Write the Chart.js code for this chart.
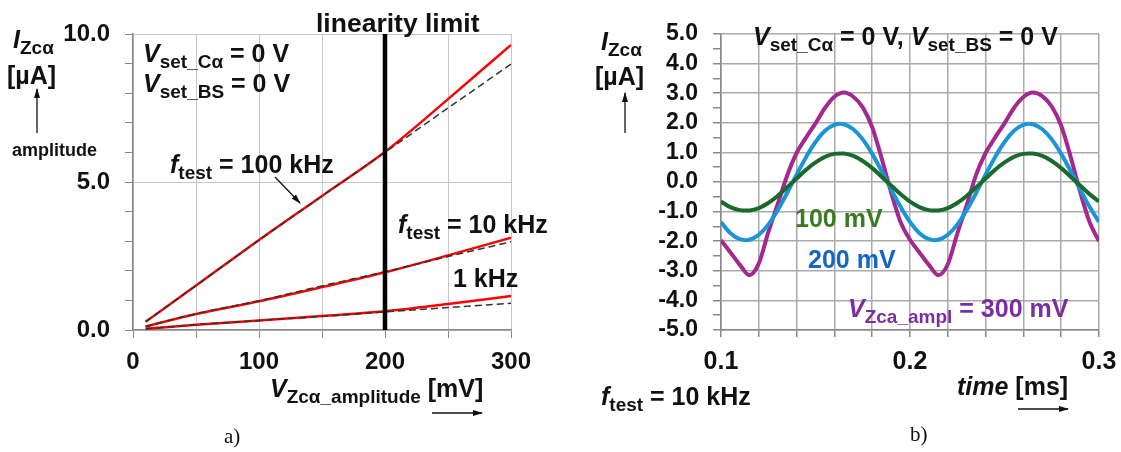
<!DOCTYPE html>
<html>
<head>
<meta charset="utf-8">
<script src="https://cdn.jsdelivr.net/npm/chart.js@4.4.1/dist/chart.umd.min.js"></script>
<style>
  body { margin: 0; background: #fff; }
  #page { position: relative; width: 1121px; height: 452px; overflow: hidden;
          font-family: "Liberation Sans", Arial, sans-serif; font-weight: bold; color: #111; }
  canvas { position: absolute; top: 0; }
  .t { position: absolute; white-space: nowrap; line-height: 1; font-size: 25px; }
  .t i { font-style: italic; }
  .s { font-size: 19px; position: relative; top: 6px; }
  .cap { font-family: "Liberation Serif", "Times New Roman", serif; font-weight: normal; font-size: 21px; }
  svg { position: absolute; left: 0; top: 0; }
</style>
</head>
<body>
<div id="page">
  <canvas id="chartA" width="560" height="452" style="left:0"></canvas>
  <canvas id="chartB" width="600" height="452" style="left:560px"></canvas>

  <svg width="1121" height="452">
    <defs>
      <marker id="ah" markerWidth="10" markerHeight="6" refX="9" refY="3" orient="auto" markerUnits="userSpaceOnUse">
        <path d="M0,0 L10,3 L0,6 z" fill="#111"/>
      </marker>
    </defs>
    <line x1="37" y1="133" x2="37" y2="89" stroke="#111" stroke-width="1.3" marker-end="url(#ah)"/>
    <line x1="275" y1="177" x2="300" y2="203" stroke="#111" stroke-width="1.3" marker-end="url(#ah)"/>
    <line x1="432" y1="413" x2="482" y2="413" stroke="#111" stroke-width="1.3" marker-end="url(#ah)"/>
    <line x1="625" y1="133" x2="625" y2="93" stroke="#111" stroke-width="1.3" marker-end="url(#ah)"/>
    <line x1="1018" y1="409" x2="1068" y2="409" stroke="#111" stroke-width="1.3" marker-end="url(#ah)"/>
  </svg>

  <!-- a) amplitude vs. voltage -->
  <div class="t" style="left:316px;top:10px;font-size:26.5px">linearity limit</div>
  <div class="t" style="left:143px;top:41px"><i>V</i><span class="s">set_Cα</span> = 0 V</div>
  <div class="t" style="left:143px;top:71px"><i>V</i><span class="s">set_BS</span> = 0 V</div>
  <div class="t" style="left:170px;top:152px"><i>f</i><span class="s">test</span> = 100 kHz</div>
  <div class="t" style="left:398px;top:212px"><i>f</i><span class="s">test</span> = 10 kHz</div>
  <div class="t" style="left:453px;top:266px">1 kHz</div>
  <div class="t" style="left:13px;top:27px"><i>I</i><span class="s">Zcα</span></div>
  <div class="t" style="left:7px;top:63px">[µA]</div>
  <div class="t" style="left:12px;top:141px;font-size:18px">amplitude</div>
  <div class="t" style="left:270px;top:376px"><i>V</i><span class="s">Zcα_amplitude</span> [mV]</div>
  <div class="t cap" style="left:224px;top:426px">a)</div>

  <!-- b) current over time -->
  <div class="t" style="left:753px;top:24px"><i>V</i><span class="s">set_Cα</span> = 0 V, <i>V</i><span class="s">set_BS</span> = 0 V</div>
  <div class="t" style="left:795px;top:206px;color:#3a7a22">100 mV</div>
  <div class="t" style="left:808px;top:247px;color:#1565c4">200 mV</div>
  <div class="t" style="left:848px;top:296px;color:#7b2f9e"><i>V</i><span class="s">Zca_ampl</span> = 300 mV</div>
  <div class="t" style="left:601px;top:384px"><i>f</i><span class="s">test</span> = 10 kHz</div>
  <div class="t" style="left:957px;top:374px"><i>time</i> [ms]</div>
  <div class="t" style="left:601px;top:29px"><i>I</i><span class="s">Zcα</span></div>
  <div class="t" style="left:595px;top:64px">[µA]</div>
  <div class="t cap" style="left:910px;top:424px">b)</div>
</div>

<script>
// a) current amplitude [µA] vs. V_Zcα amplitude [mV]
const vAmplitude = [10, 50, 100, 150, 200, 250, 300];
const red100kHz  = [0.28, 1.50, 3.04, 4.53, 6.02, 7.80, 9.63];
const dash100kHz = [0.28, 1.50, 3.03, 4.52, 6.00, 7.50, 8.98];
const red10kHz   = [0.12, 0.54, 0.97, 1.45, 1.95, 2.52, 3.12];
const dash10kHz  = [0.12, 0.55, 0.99, 1.49, 1.97, 2.48, 2.98];
const red1kHz    = [0.04, 0.18, 0.32, 0.47, 0.63, 0.88, 1.15];
const dash1kHz   = [0.04, 0.18, 0.32, 0.46, 0.61, 0.76, 0.90];
const linearityLimit = 200;
const ampRange = [0, 10];

// b) current [µA] over time [ms], f_test = 10 kHz
const timeMs = [0.100, 0.105, 0.110, 0.115, 0.120, 0.125, 0.130, 0.135, 0.140, 0.145,
                0.150, 0.155, 0.160, 0.165, 0.170, 0.175, 0.180, 0.185, 0.190, 0.195,
                0.200, 0.205, 0.210, 0.215, 0.220, 0.225, 0.230, 0.235, 0.240, 0.245,
                0.250, 0.255, 0.260, 0.265, 0.270, 0.275, 0.280, 0.285, 0.290, 0.295, 0.300];
const i100mV = [-0.66, -0.85, -0.95, -0.96, -0.88, -0.71, -0.47, -0.18, 0.12, 0.41,
                0.66, 0.85, 0.95, 0.96, 0.88, 0.71, 0.47, 0.18, -0.12, -0.41,
                -0.66, -0.85, -0.95, -0.96, -0.88, -0.71, -0.47, -0.18, 0.12, 0.41,
                0.66, 0.85, 0.95, 0.96, 0.88, 0.71, 0.47, 0.18, -0.12, -0.41, -0.66];
const i200mV = [-1.35, -1.73, -1.93, -1.95, -1.78, -1.44, -0.95, -0.37, 0.25, 0.84,
                1.35, 1.73, 1.93, 1.95, 1.78, 1.44, 0.95, 0.37, -0.25, -0.84,
                -1.35, -1.73, -1.93, -1.95, -1.78, -1.44, -0.95, -0.37, 0.25, 0.84,
                1.35, 1.73, 1.93, 1.95, 1.78, 1.44, 0.95, 0.37, -0.25, -0.84, -1.35];
const i300mV = [-1.97, -2.38, -2.80, -3.15, -2.75, -1.70, -0.75, 0.22, 0.98, 1.50,
                1.98, 2.50, 2.88, 3.02, 2.88, 2.52, 1.85, 0.80, -0.35, -1.35,
                -1.95, -2.38, -2.80, -3.15, -2.78, -1.75, -0.78, 0.25, 0.98, 1.50,
                1.98, 2.50, 2.87, 3.02, 2.90, 2.55, 1.90, 0.85, -0.33, -1.35, -2.00];

const FONT = '"Liberation Sans", Arial, sans-serif';
const pts = (xs, ys) => xs.map((x, i) => ({ x: x, y: ys[i] }));

const base = {
  responsive: false,
  animation: false,
  events: [],
  plugins: { legend: { display: false }, tooltip: { enabled: false } },
  elements: { point: { radius: 0 } }
};

// left chart
new Chart(document.getElementById('chartA'), {
  type: 'line',
  data: {
    datasets: [
      { data: [{ x: linearityLimit, y: ampRange[0] }, { x: linearityLimit, y: ampRange[1] }],
        borderColor: '#000', borderWidth: 4.5, tension: 0 },
      { data: pts(vAmplitude, dash100kHz), borderColor: '#333', borderWidth: 1.5, borderDash: [7, 4], cubicInterpolationMode: 'monotone' },
      { data: pts(vAmplitude, dash10kHz),  borderColor: '#333', borderWidth: 1.5, borderDash: [7, 4], cubicInterpolationMode: 'monotone' },
      { data: pts(vAmplitude, dash1kHz),   borderColor: '#333', borderWidth: 1.5, borderDash: [7, 4], cubicInterpolationMode: 'monotone' },
      { data: pts(vAmplitude, red100kHz), borderColor: '#ff0000', borderWidth: 2.5, cubicInterpolationMode: 'monotone' },
      { data: pts(vAmplitude, red10kHz),  borderColor: '#ff0000', borderWidth: 2.5, cubicInterpolationMode: 'monotone' },
      { data: pts(vAmplitude, red1kHz),   borderColor: '#ff0000', borderWidth: 2.5, cubicInterpolationMode: 'monotone' }
    ]
  },
  options: {
    ...base,
    layout: { padding: { left: 0, right: 49, top: 34, bottom: 0 } },
    scales: {
      x: {
        type: 'linear', min: 0, max: 300,
        afterFit: s => { s.height = 122; },
        ticks: { stepSize: 50, autoSkip: false, maxRotation: 0, padding: 10, color: '#111',
                 font: { family: FONT, size: 24, weight: 'bold' },
                 callback: v => (v % 100 === 0 ? String(v) : '') },
        grid: { color: '#c8c8c8', lineWidth: 1, tickLength: 8, tickColor: '#888' },
        border: { color: '#888', width: 1.5 }
      },
      y: {
        type: 'linear', min: ampRange[0], max: ampRange[1],
        afterFit: s => { s.width = 133; },
        ticks: { stepSize: 1, autoSkip: false, padding: 15, color: '#111',
                 font: { family: FONT, size: 24, weight: 'bold' },
                 callback: v => (v % 5 === 0 ? v.toFixed(1) : '') },
        grid: { color: c => (c.tick && c.tick.value % 5 === 0 ? '#c8c8c8' : 'rgba(0,0,0,0)'),
                lineWidth: 1, tickLength: 8, tickColor: '#888' },
        border: { color: '#888', width: 1.5 }
      }
    }
  }
});

// right chart (canvas is wider than the page so the last tick label has room)
new Chart(document.getElementById('chartB'), {
  type: 'line',
  data: {
    datasets: [
      { data: pts(timeMs, i100mV), borderColor: '#1a6a2c', borderWidth: 4, tension: 0.4 },
      { data: pts(timeMs, i200mV), borderColor: '#1a95d8', borderWidth: 4, tension: 0.4 },
      { data: pts(timeMs, i300mV), borderColor: '#a3288f', borderWidth: 4, cubicInterpolationMode: 'monotone' }
    ]
  },
  options: {
    ...base,
    layout: { padding: { left: 0, right: 61, top: 34, bottom: 0 } },
    scales: {
      x: {
        type: 'linear', min: 0.1, max: 0.3,
        afterFit: s => { s.height = 122; },
        ticks: { stepSize: 0.02, autoSkip: false, maxRotation: 0, padding: 10, color: '#111',
                 font: { family: FONT, size: 25, weight: 'bold' },
                 callback: v => (Math.abs(v * 10 - Math.round(v * 10)) < 1e-6 ? v.toFixed(1) : '') },
        grid: { color: '#aaa', lineWidth: 1.5, tickLength: 7, tickColor: '#888' },
        border: { color: '#888', width: 1.5 }
      },
      y: {
        type: 'linear', min: -5, max: 5,
        afterFit: s => { s.width = 161; },
        ticks: { stepSize: 0.5, autoSkip: false, padding: 15, color: '#111',
                 font: { family: FONT, size: 23, weight: 'bold' },
                 callback: v => (Number.isInteger(v) ? v.toFixed(1) : '') },
        grid: { color: c => (c.tick && Number.isInteger(c.tick.value) ? '#aaa' : 'rgba(0,0,0,0)'),
                lineWidth: 1.5, tickLength: 8, tickColor: '#888' },
        border: { color: '#888', width: 1.5 }
      }
    }
  }
});
</script>
</body>
</html>
